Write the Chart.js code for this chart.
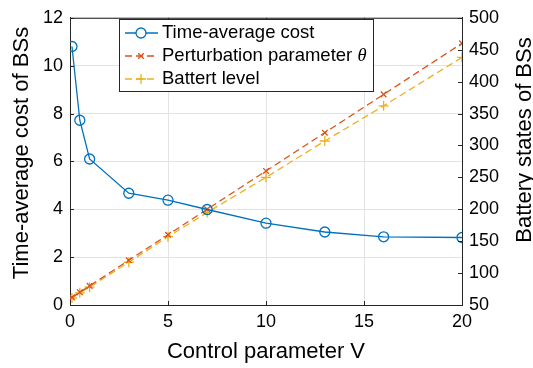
<!DOCTYPE html>
<html>
<head>
<meta charset="utf-8">
<script src="https://cdn.jsdelivr.net/npm/chart.js@4"></script>
<style>
  html, body { margin: 0; padding: 0; background: #fff; }
  #wrap { width: 533px; height: 368px; }
</style>
</head>
<body>
<div id="wrap"><canvas id="chart" width="533" height="368"></canvas></div>
<script>
// Data
const controlV = [0.1, 0.5, 1, 3, 5, 7, 10, 13, 16, 20];
const avgCost = [10.8, 7.72, 6.1, 4.67, 4.38, 3.99, 3.42, 3.05, 2.85, 2.82];
const thetaParam = [62, 70, 80, 120, 160, 200, 260, 320, 380, 460];
const batteryLevel = [61, 69, 78, 117, 157, 195, 250, 307, 362, 438];
const seriesLabels = ['Time-average cost', 'Perturbation parameter θ', 'Battert level'];

const BLUE = '#0072BD', ORANGE = '#D95319', YELLOW = '#EDB120';
const FONT = '"Liberation Sans", Arial, sans-serif';

function pts(ys) { return controlV.map((v, i) => ({ x: v, y: ys[i] })); }

// MATLAB-ish frame: inward ticks, top border, axis titles, legend box
const framePlugin = {
  id: 'frame',
  afterDraw(chart) {
    const ctx = chart.ctx, a = chart.chartArea;
    const sx = chart.scales.x, sy = chart.scales.y, sy2 = chart.scales.y2;
    ctx.save();
    ctx.strokeStyle = '#262626';
    ctx.lineWidth = 1;
    ctx.beginPath();
    ctx.moveTo(a.left, a.top + 0.5); ctx.lineTo(a.right, a.top + 0.5);
    sx.ticks.forEach(t => {
      const px = Math.round(sx.getPixelForValue(t.value)) + 0.5;
      ctx.moveTo(px, a.bottom); ctx.lineTo(px, a.bottom - 4);
      ctx.moveTo(px, a.top); ctx.lineTo(px, a.top + 4);
    });
    sy.ticks.forEach(t => {
      const py = Math.round(sy.getPixelForValue(t.value)) + 0.5;
      ctx.moveTo(a.left, py); ctx.lineTo(a.left + 4, py);
    });
    sy2.ticks.forEach(t => {
      const py = Math.round(sy2.getPixelForValue(t.value)) + 0.5;
      ctx.moveTo(a.right, py); ctx.lineTo(a.right - 4, py);
    });
    ctx.stroke();

    // axis titles
    ctx.fillStyle = '#000';
    ctx.font = '22px ' + FONT;
    ctx.textAlign = 'center';
    ctx.textBaseline = 'middle';
    ctx.fillText('Control parameter V', (a.left + a.right) / 2, 352);
    ctx.save();
    ctx.translate(22, 153);
    ctx.rotate(-Math.PI / 2);
    ctx.fillText('Time-average cost of BSs', 0, 0);
    ctx.restore();
    ctx.save();
    ctx.translate(525, 140);
    ctx.rotate(-Math.PI / 2);
    ctx.fillText('Battery states of BSs', 0, 0);
    ctx.restore();

    // legend
    const lx = 119.5, ly = 19.5, lw = 254, lh = 72;
    ctx.fillStyle = '#fff';
    ctx.fillRect(lx, ly, lw, lh);
    ctx.strokeStyle = '#262626';
    ctx.lineWidth = 1;
    ctx.strokeRect(lx, ly, lw, lh);
    const rows = [33, 56, 79];
    chart.data.datasets.forEach((ds, i) => {
      const y = rows[i];
      ctx.strokeStyle = ds.borderColor;
      ctx.lineWidth = 1.3;
      ctx.setLineDash(ds.borderDash || []);
      ctx.beginPath();
      ctx.moveTo(125, y); ctx.lineTo(158, y);
      ctx.stroke();
      ctx.setLineDash([]);
      Chart.helpers.drawPoint(ctx, {
        pointStyle: ds.pointStyle, radius: ds.pointRadius, borderWidth: 1.3
      }, 141, y);
      ctx.fillStyle = '#000';
      ctx.font = '18.5px ' + FONT;
      ctx.textBaseline = 'middle';
      ctx.textAlign = 'left';
      if (i === 1) {
        const base = 'Perturbation parameter ';
        ctx.fillText(base, 162, y);
        const w = ctx.measureText(base).width;
        ctx.font = 'italic 18.5px "Liberation Serif", "Times New Roman", serif';
        ctx.fillText('θ', 162 + w, y);
      } else {
        ctx.fillText(ds.label, 162, y);
      }
    });
    ctx.restore();
  }
};

new Chart(document.getElementById('chart'), {
  type: 'line',
  data: {
    datasets: [
      {
        label: seriesLabels[0], data: pts(avgCost), yAxisID: 'y',
        borderColor: BLUE, backgroundColor: 'rgba(0,0,0,0)', borderWidth: 1.3,
        pointStyle: 'circle', pointRadius: 5, pointBorderWidth: 1.3,
        pointBackgroundColor: 'rgba(0,0,0,0)', pointBorderColor: BLUE
      },
      {
        label: seriesLabels[1], data: pts(thetaParam), yAxisID: 'y2',
        borderColor: ORANGE, backgroundColor: 'rgba(0,0,0,0)', borderWidth: 1.3,
        borderDash: [7, 4],
        pointStyle: 'crossRot', pointRadius: 4, pointBorderWidth: 1.3,
        pointBorderColor: ORANGE
      },
      {
        label: seriesLabels[2], data: pts(batteryLevel), yAxisID: 'y2',
        borderColor: YELLOW, backgroundColor: 'rgba(0,0,0,0)', borderWidth: 1.3,
        borderDash: [7, 4],
        pointStyle: 'cross', pointRadius: 5, pointBorderWidth: 1.3,
        pointBorderColor: YELLOW
      }
    ]
  },
  options: {
    responsive: false,
    animation: false,
    layout: { padding: { top: 12, left: 0, right: 0, bottom: 0 } },
    plugins: { legend: { display: false }, tooltip: { enabled: false } },
    scales: {
      x: {
        type: 'linear', min: 0, max: 20,
        ticks: { stepSize: 5, color: '#000', font: { family: FONT, size: 18 }, padding: 6 },
        grid: { color: '#e3e3e3', drawTicks: false },
        border: { color: '#262626' },
        afterFit(s) { s.height = 63; }
      },
      y: {
        position: 'left', min: 0, max: 12,
        ticks: { stepSize: 2, color: '#000', font: { family: FONT, size: 18 }, padding: 7 },
        grid: { color: '#e3e3e3', drawTicks: false },
        border: { color: '#262626' },
        afterFit(s) { s.width = 70; }
      },
      y2: {
        position: 'right', min: 50, max: 500,
        ticks: { stepSize: 50, color: '#000', font: { family: FONT, size: 18 }, padding: 7 },
        grid: { display: false, drawTicks: false },
        border: { color: '#262626' },
        afterFit(s) { s.width = 71; }
      }
    }
  },
  plugins: [framePlugin]
});
</script>
</body>
</html>
